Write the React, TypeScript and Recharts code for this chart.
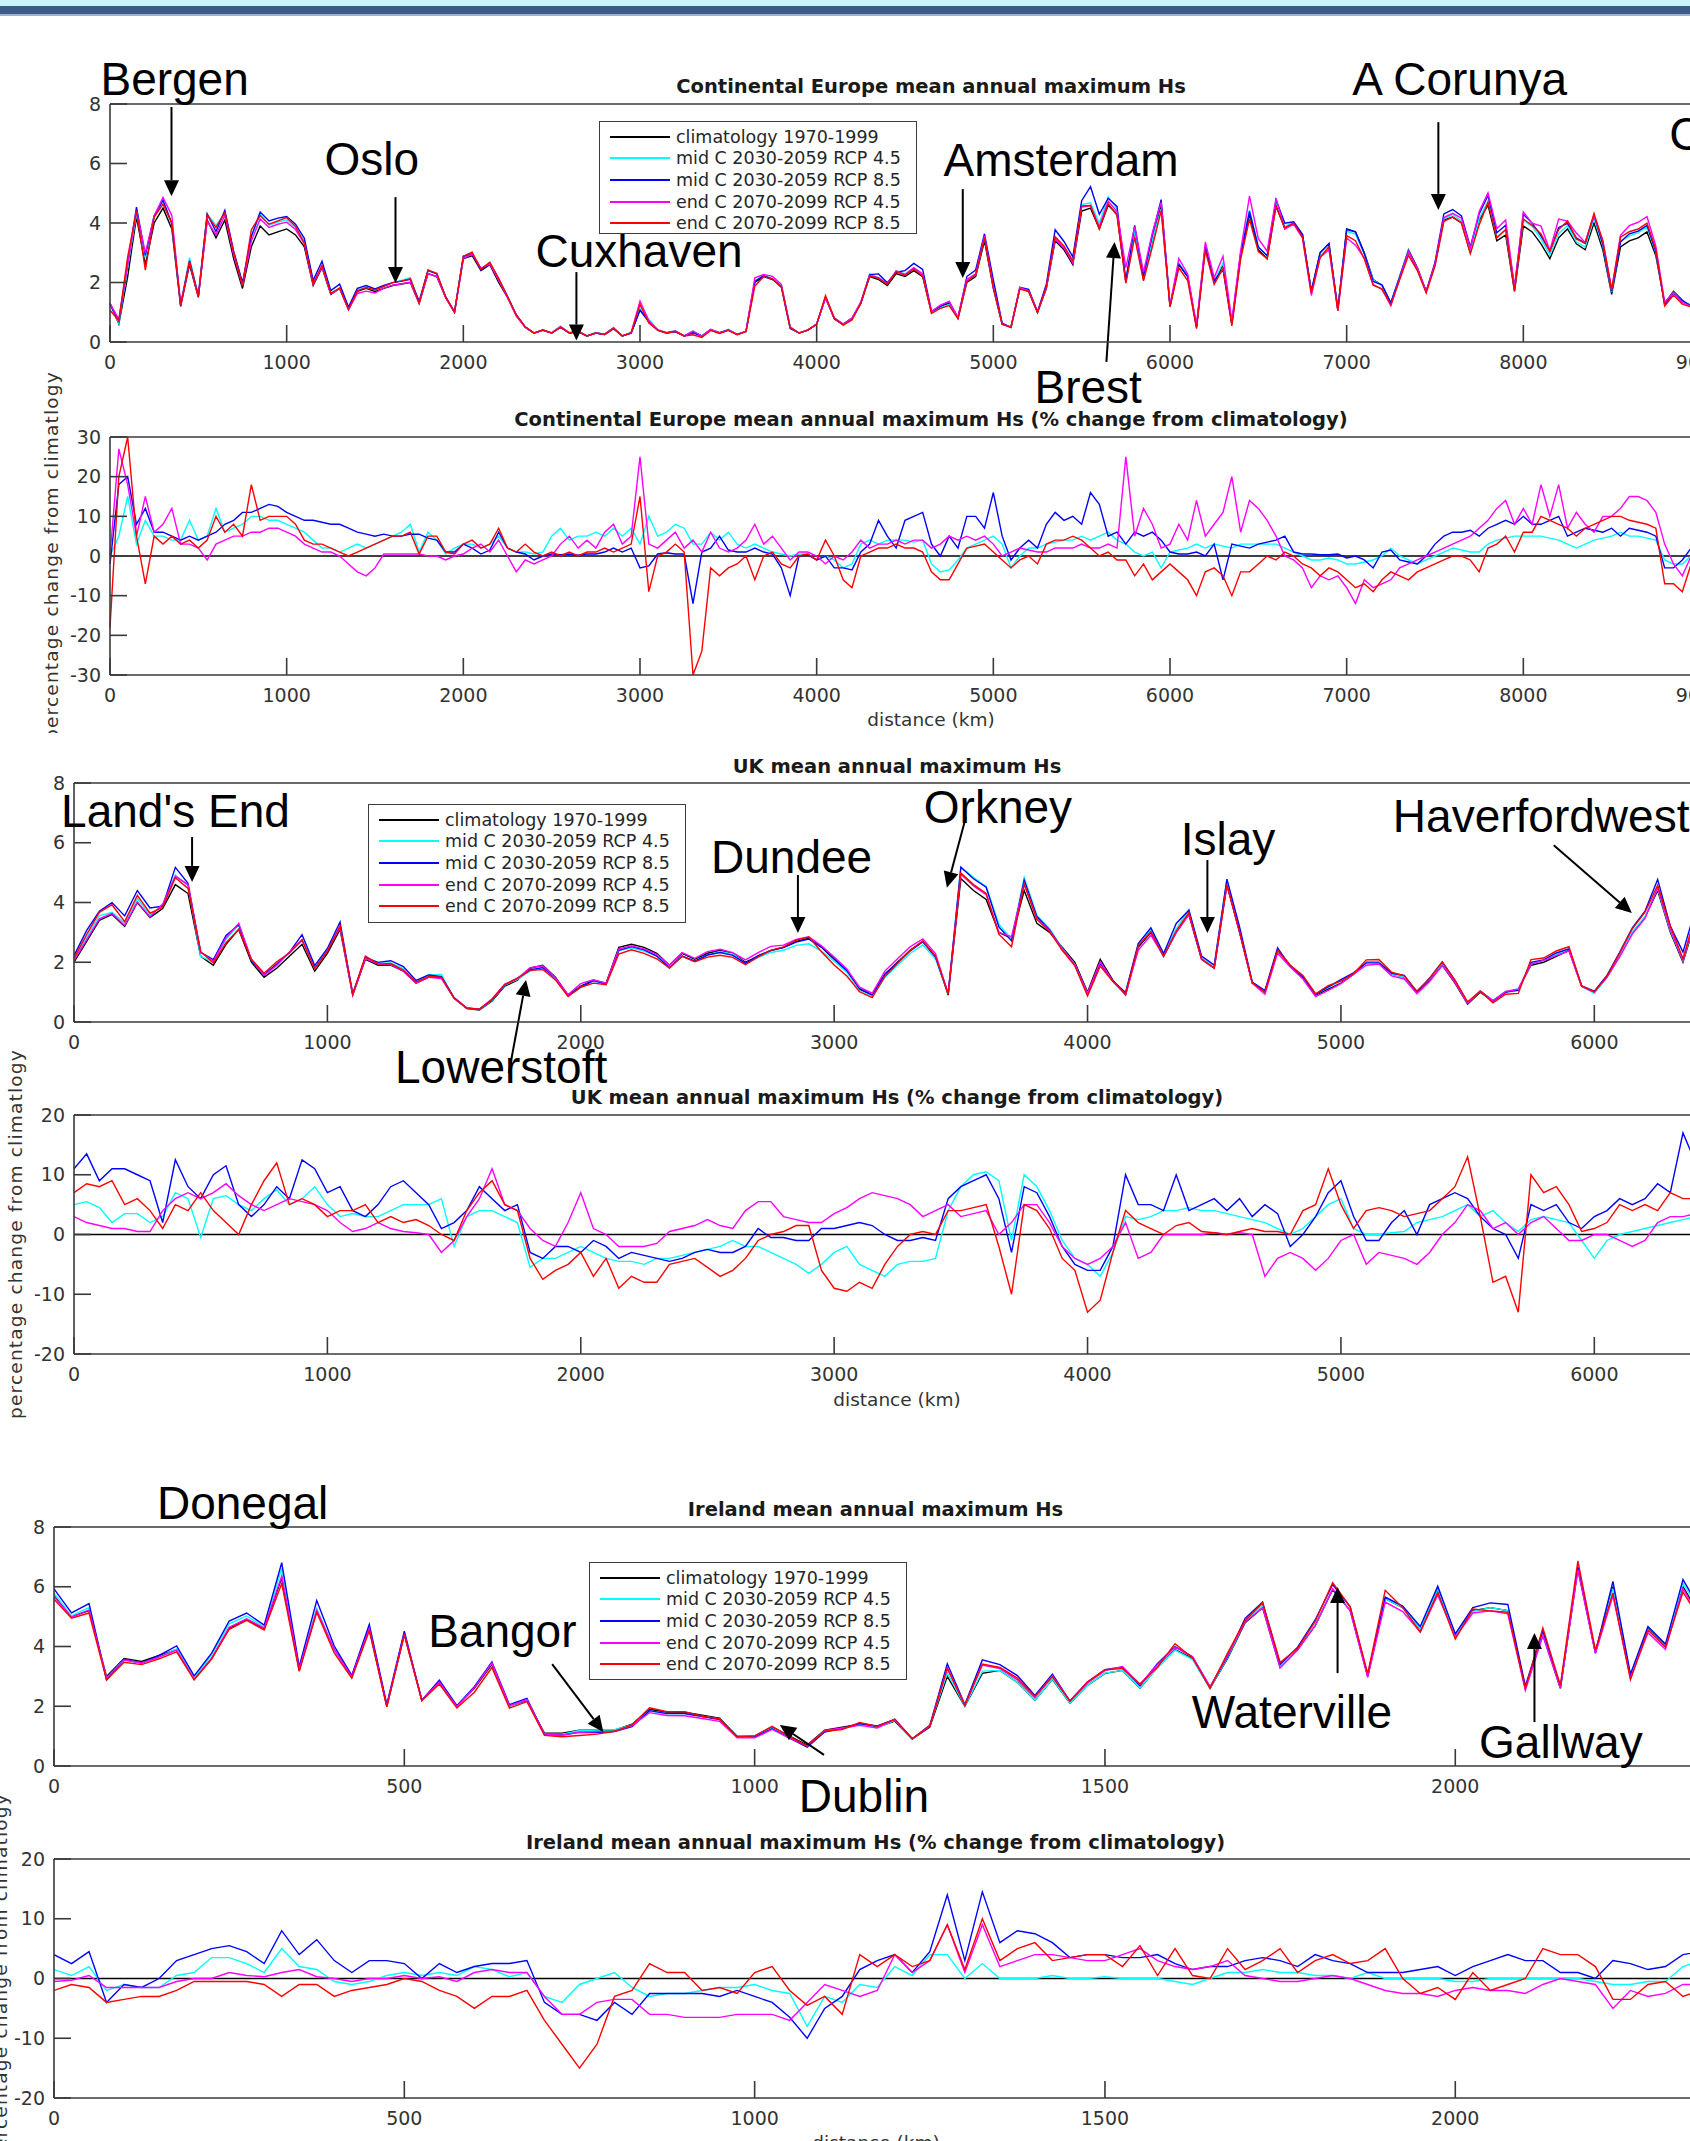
import React from "react";
import { LineChart, Line, XAxis, YAxis, Legend, ReferenceLine, ReferenceDot } from "recharts";

// ---------- Continental Europe (one value every 50 km) ----------
const CE_STEP_KM = 50;
const CE_CLIM = [
  1.3, 0.6, 2.2, 4.2, 2.6, 4.0, 4.5, 3.8, 1.2, 2.6,
  1.5, 4.1, 3.5, 4.1, 2.8, 1.8, 3.2, 3.9, 3.6, 3.7,
  3.8, 3.6, 3.2, 1.9, 2.5, 1.6, 1.8, 1.1, 1.7, 1.8,
  1.7, 1.8, 1.9, 1.95, 2.0, 1.3, 2.3, 2.2, 1.5, 1.0,
  2.8, 2.9, 2.4, 2.6, 2.0, 1.5, 0.9, 0.5, 0.3, 0.4,
  0.3, 0.5, 0.3, 0.35, 0.2, 0.3, 0.25, 0.45, 0.2, 0.3,
  1.1, 0.7, 0.4, 0.3, 0.35, 0.2, 0.35, 0.2, 0.4, 0.3,
  0.4, 0.25, 0.35, 2.0, 2.2, 2.1, 1.9, 0.5, 0.3, 0.4,
  0.6, 1.5, 0.8, 0.6, 0.8, 1.3, 2.2, 2.1, 1.9, 2.3,
  2.2, 2.4, 2.2, 1.0, 1.2, 1.3, 0.8, 2.0, 2.2, 3.4,
  1.8, 0.6, 0.5, 1.8, 1.7, 1.0, 1.8, 3.4, 3.1, 2.6,
  4.4, 4.5, 3.8, 4.6, 4.3, 2.0, 3.7, 2.1, 3.4, 4.6,
  1.2, 2.6, 2.2, 0.5, 3.2, 2.0, 2.6, 0.6, 2.9, 4.3,
  3.1, 2.8, 4.6, 3.8, 4.0, 3.6, 1.7, 3.0, 3.3, 1.1,
  3.8, 3.7, 3.0, 2.1, 1.9, 1.3, 2.2, 3.1, 2.5, 1.7,
  2.6, 4.1, 4.2, 4.0, 3.0, 4.1, 4.6, 3.4, 3.6, 1.7,
  3.9, 3.7, 3.3, 2.8, 3.5, 3.8, 3.3, 3.1, 4.0, 3.1,
  1.6, 3.2, 3.4, 3.5, 3.7, 2.9, 1.3, 1.7, 1.4, 1.2,
  1.3, 1.2, 1.4, 1.1, 1.3, 1.2, 1.3,
];
// % change from climatology
const CE_MID45 = [
  0, 5, 15, 3, 9, 5, 5, 4, 4, 9,
  4, 5, 12, 6, 7, 8, 10, 10, 9, 9,
  8, 7, 6, 4, 2, 2, 1, 2, 3, 2,
  3, 4, 5, 6, 8, 1, 6, 4, 0.5, 2,
  3, 3, 2, 3, 5, 2, 1, 1, 0.5, 1,
  5, 7, 4, 5, 5, 6, 5, 7, 5, 7,
  3, 10, 5, 6, 8, 7, 3, 3, 6, 4,
  6, 3, 2, 3, 2, 1, 0.5, 0, 0.5, 0.5,
  -1, 0, -1, -3, -2, 3, 4, 3, 4, 4,
  4, 3.5, 4, -2, -4, -3.5, -1, 2, 3, 4,
  5, 3, -3, 0, 2, 2, 3, 3.5, 4, 4,
  5, 4, 5, 6, 4, 3, 1, 0, 1, -3,
  1, 1.5, 2, 3, 2, 3, 2.5, 2, 3, 3,
  3, 3, 3, 2, 1, 0, -1, -1, -0.5, -1,
  -2, -2, -1.5, -1, 0, 2, 0, -1, -2, -1,
  0, 1, 2, 1.5, 1, 1, 3, 4, 4.5, 5,
  5, 5, 5, 4.5, 4, 3, 2, 3, 4, 4.5,
  5, 6, 5, 5, 4.5, 4, -1, -2, -2, 0,
  1, 0.5, 1, 0, 1, 0.5, 0,
];
const CE_MID85 = [
  -2, 18, 20, 8, 12, 6, 6, 5, 4, 5,
  4, 5, 6, 8, 9, 11, 11, 12, 13, 12.5,
  11, 10, 9, 9, 8.5, 8, 8, 7, 6, 5.5,
  5, 5.5, 5, 5, 5.5, 5.5, 4.5, 4, 1, 1,
  3, 2, 0.5, 1.5, 6, 2, 1, 0.5, -1, 0,
  0.5, 0.3, 0.5, 0.2, 0.5, 0.5, 1, 2, 1, 2,
  -3, -2.5, 0.5, 0.8, 0.5, 0.5, -12, 1, 2, 5,
  1.5, 1, 1, 2, 1, 0.5, -3, -10, 0, 0.3,
  -1, 0, -3, -3, -3.5, 1, 3, 9, 5, 2,
  9, 10, 11, 3, 0, 5, 2, 10, 10, 7,
  16, 5, -1, 2, 4, 2, 8, 11, 9, 10,
  8, 16, 13, 5, 6, 3, 6, 5, 6, 4,
  1, 0.5, 0.5, 1, 0, 3, -6, 3, 2.5, 2,
  3, 3.5, 4, 5, 1, 0.5, 0.5, 0.3, 0.3, 0.5,
  -0.5, 0, -1, -3, 1, 1.5, -1, -1.5, -2, 0,
  3, 5, 6, 6, 6.5, 5, 7, 8, 9, 8,
  10, 8, 8, 9, 10, 5, 6, 7, 6.5, 6,
  7, 5, 7, 6.5, 6, 5, -3, -3, -1, 2,
  1, 0, 1, 2, 1, 0, 1,
];
const CE_END45 = [
  0, 27, 18, 5, 15, 6, 8, 12, 3, 3,
  2, -1, 3, 4, 5, 5, 6, 6, 7, 7,
  6, 5, 3, 2, 1, 1, 0, -2, -4, -5,
  -3, 0.5, 0.5, 0.5, 0.5, 0.5, 0, 0, -1, 0,
  0.5, 2, 3, 1, 4, 0, -4, -1, -2, -1,
  0, 3, 5, 2, 4, 2, 6, 8, 3, 5,
  25, 3, 2, 4, 6, 2, 4, 1, 6, 2,
  1, 2, 4, 8, 3, 5, 2, -1, 1, 1,
  0, -2, 0, -1, 1, 4, 2, 3, 3, 4,
  3, 4, 4, 2, 3, 5, 4, 5, 4, 5,
  3, 0, 1, 2, 1.5, 1, 1, 2, 2, 2,
  3, 2, 2, 3, 2, 25, 5, 12, 8, 2,
  3, 8, 4, 14, 5, 8, 11, 20, 6, 14,
  12, 9, 5, 0, -1, -3, -8, -5, -6, -5,
  -8, -12, -6, -8, -7, -6, -3, -2, -1, 0,
  1, 2, 3, 4, 5, 7, 9, 12, 14, 8,
  12, 8, 18, 10, 18, 7, 11, 8, 6, 10,
  10, 12, 15, 15, 14, 11, 3, -2, -5, 0,
  -3, -2, 0, -1, -2, -1, 0,
];
const CE_END85 = [
  -18, 20, 30, 5, -7, 5, 3, 5, 3, 4,
  2, 4, 10, 6, 8, 5, 18, 9, 10, 10,
  10, 8, 4, 3, 3, 2, 1, 0, 1, 2,
  3, 4, 5, 5, 6, 0.5, 5, 5, 1, 0.5,
  3, 4, 2, 3, 7, 2, 1, 3, 1, 0,
  1, 0, 1, 0, 1, 1, 2, 1, 2, 3,
  15, -9, 0, 1, 3, 1, -30, -24, -3, -5,
  -3, -2, 0, -6, 0, 1, -2, -3, 0, 0.5,
  -1, 4, 0, -6, -8, 0, 1, 2, 2, 3,
  2, 2, 1, -4, -6, -6, -2, 2, 2.5, 3,
  1, -1, -3, -1, 0, -2, 3, 4, 4, 5,
  4, 2, 0, 1, -1, -1, -5, -2, -6, -4,
  -2, -4, -6, -10, -4, -3, -5, -10, -4, -4,
  -2, 0, -1, 1, 0, -2, -3, -5, -3, -4,
  -6, -8, -7, -9, -6, -4, -5, -6, -4, -3,
  -2, -1, 0, 0, -1, -4, 2, 3, 5, 1,
  6, 6, 10, 9, 8, 7, 5, 7, 8, 9,
  10, 10, 9, 8.5, 8, 7, -7, -7, -9, -2,
  -4, -3, -2, -3, -2, -1, -2,
];

// ---------- UK (one value every 50 km) ----------
const UK_STEP_KM = 50;
const UK_CLIM = [
  2.0, 2.7, 3.4, 3.6, 3.2, 4.0, 3.5, 3.8, 4.6, 4.3,
  2.2, 1.9, 2.6, 3.1, 2.0, 1.5, 1.8, 2.2, 2.6, 1.7,
  2.3, 3.1, 0.9, 2.1, 1.9, 1.9, 1.7, 1.3, 1.5, 1.5,
  0.8, 0.45, 0.4, 0.7, 1.2, 1.4, 1.8, 1.9, 1.5, 0.9,
  1.2, 1.4, 1.3, 2.5, 2.6, 2.5, 2.3, 1.9, 2.3, 2.1,
  2.3, 2.4, 2.3, 2.0, 2.2, 2.4, 2.5, 2.7, 2.8, 2.5,
  2.1, 1.7, 1.1, 0.9, 1.6, 2.0, 2.4, 2.7, 2.2, 0.9,
  4.8, 4.4, 4.1, 3.0, 2.8, 4.4, 3.3, 3.0, 2.5, 2.0,
  1.0, 2.1, 1.4, 0.9, 2.5, 3.0, 2.2, 3.0, 3.6, 2.1,
  1.8, 4.6, 3.0, 1.3, 1.0, 2.4, 1.9, 1.5, 0.9, 1.1,
  1.3, 1.6, 2.0, 2.0, 1.6, 1.5, 1.0, 1.4, 1.9, 1.3,
  0.6, 1.0, 0.7, 1.0, 1.1, 1.9, 2.0, 2.2, 2.4, 1.2,
  1.0, 1.5, 2.2, 3.0, 3.5, 4.4, 3.0, 2.0, 3.4, 3.0,
  2.8,
];
const UK_MID45 = [
  5, 5.5, 4.5, 2, 3.5, 3.5, 2, 3, 7, 6,
  -0.5, 6, 6.5, 5, 4, 6, 7.5, 5, 6, 8,
  5, 3, 3.5, 3, 3, 4, 5, 5, 5, 6,
  -2, 3, 4, 4, 3, 2, -5.5, -4, -4, -3,
  -2, -3, -4, -4.5, -4.5, -5, -4, -4, -3.5, -3,
  -2.5, -2, -1, -2, -2, -3, -4, -5, -6.5, -5,
  -3, -2, -5, -6, -7, -5, -4.5, -4.5, -4, 4,
  8, 10, 10.5, 9, -1, 10, 8, 4, -1, -4,
  -5, -7, -3, 3, 2.5, 3, 4, 4, 4.5, 4,
  4, 3.5, 3, 2.5, 2, 1, 0, 1, 3, 5,
  6, 1, 0, 0, 0.3, 0.5, 2, 2.5, 3, 4,
  5, 3, 4, 2, 0.5, 2.5, 3, 2.5, 2, -1,
  -4, -1, 0, 0.5, 1, 1.5, 2, 2.5, 3, 3,
  3,
];
const UK_MID85 = [
  11, 13.5, 9, 11, 11, 10, 9, 2, 12.5, 8,
  6, 10, 11.5, 5, 3, 5, 8, 6, 12.5, 11,
  7, 8, 4, 3, 5, 8, 9, 7, 5, 1,
  2, 4, 8, 6, 4, 5, -3, -4, -2, -2,
  -3, -1, -2, -4, -3, -3.5, -4, -4.5, -4, -3,
  -2.5, -3, -3, -2, 1, -0.5, -0.5, -1, -1, 1,
  1, 1.5, 2, 1.5, 0, -1, -1, -0.5, -1, 6,
  8, 9, 10, 6, -3, 8, 7, 3, -2, -5,
  -6, -6, -2, 10, 5, 5, 4, 10, 4, 5,
  6, 4, 6, 3, 5, 3.5, -2, 0, 3, 7,
  9, 3, -1, -1, 2, 4, 0, 5, 6, 7,
  6, 3, 1, 0, -4, 5, 4, 5, 2, 1,
  3, 4, 6, 5, 6, 8.5, 7, 17, 12, 10,
  9,
];
const UK_END45 = [
  3, 2, 1.5, 1, 1, 0.5, 0.5, 4, 6, 7,
  6, 7, 8.5, 6.5, 5, 4, 5, 6, 5.5, 5,
  4, 2, 0.5, 1, 2, 1, 0.5, 0.3, 0, -3,
  -1, 3, 6, 11, 5, 4, 1, -1, -2, 2,
  7, 1, 0, -2, -2, -2, -1.5, 0.5, 1, 1.5,
  2.5, 1.5, 1, 4, 5.5, 5.5, 3, 2.5, 2, 2,
  3.5, 4.5, 6, 7, 6.5, 6, 5, 3, 4, 5,
  3, 3.5, 4, 0, 2, 5, 5, 2, -2, -4,
  -5, -4, -2, 2, -4, -3, 0, 0, 0, 0,
  0.3, 0, 0.3, 0, -7, -4, -3, -4, -6, -4,
  -1, 0, -5, -3, -3.5, -4, -5, -3, 0, 2,
  5, 4, 1, 2, 0, 2, 3, 1, -1, -1,
  0, 0, -1, -2, -1, 2, 3, 3, 3.5, 3,
  3,
];
const UK_END85 = [
  7, 8.5, 8, 9, 5, 6, 4, 1, 5, 4,
  7, 4, 2, 0, 5, 9, 12, 5, 6, 5,
  3, 4, 4, 5, 2, 3, 2, 2.5, 1.5, 0,
  -1, 4, 7, 9, 5, 4, -4, -7.5, -6, -5,
  -3, -7, -4, -9, -7, -8, -8, -5, -4.5, -4,
  -5.5, -7, -6, -4, -1, 0, 0.5, 1.5, 1.5, -6,
  -9, -9.5, -8, -9, -5, -2, 0, 0.5, 0, 4,
  4, 4.5, 5, -2, -10, 5, 4, 1, -4, -6,
  -13, -11, -3, 4, 2, 1, 0, 1.5, 2, 0.5,
  0.3, 0, 0.5, 1, 0.5, 0.5, 0, 4, 5, 11,
  5, 1, 4, 4.5, 4, 3, 3.5, 4, 6, 8,
  13, 3, -8, -7, -13, 10, 7, 8, 5, 0.5,
  1, 2, 5, 4, 5, 4, 7, 6, 6, 5,
  5,
];

// ---------- Ireland (one value every 25 km) ----------
const IE_STEP_KM = 25;
const IE_CLIM = [
  5.7, 5.0, 5.2, 3.0, 3.6, 3.5, 3.7, 3.9, 2.9, 3.6,
  4.6, 4.9, 4.6, 6.3, 3.2, 5.2, 3.9, 3.0, 4.6, 2.0,
  4.4, 2.2, 2.8, 2.0, 2.6, 3.4, 2.0, 2.2, 1.1, 1.1,
  1.2, 1.2, 1.2, 1.4, 1.9, 1.8, 1.8, 1.7, 1.6, 1.0,
  1.0, 1.3, 1.0, 0.7, 1.2, 1.3, 1.4, 1.3, 1.5, 0.9,
  1.3, 3.0, 2.0, 3.1, 3.2, 2.8, 2.2, 2.9, 2.1, 2.7,
  3.1, 3.2, 2.6, 3.3, 3.9, 3.6, 2.6, 3.6, 4.8, 5.3,
  3.3, 3.9, 4.7, 5.9, 5.2, 3.0, 5.6, 5.3, 4.6, 5.9,
  4.4, 5.2, 5.3, 5.2, 2.6, 4.4, 2.6, 6.6, 3.8, 6.0,
  3.0, 4.6, 4.0, 6.0, 5.0,
];
const IE_MID45 = [
  1.5, 0.5, 2, -2, -1, -1.5, -1.5, 0.5, 1, 3.5,
  3.5, 2.5, 1, 5, 2, 1.5, -0.5, -1, -0.5, 0.5,
  1, 0.5, 1, 0.5, 2, 1.5, 0.3, 1, -3, -4,
  -1, 0, 1, -1.5, -3, -2.5, -2.5, -2, -1.5, -1.5,
  -1, -2, -2.5, -8, -3, -4, -1, -1.5, 2, 0.5,
  4, 4, 0, 2.5, 0, 0, 0, 0.5, 0, 0,
  0.3, 0, 0, 0, -0.5, -1, 0, 1, 1, 1.5,
  1, 1, 0.5, 0.5, 0, 1, 0, 0, 0, 0,
  -0.5, -0.5, 0, 0, 0, 0, 0, 0, -0.5, -1,
  -1, -0.5, -0.5, 2, 3,
];
const IE_MID85 = [
  4, 2.5, 4.5, -4, -1, -1.5, 0, 3, 4, 5,
  5.5, 4.5, 2.5, 8, 4, 6.5, 3, 1, 3, 3,
  2.5, 0, 2.5, 1, 2, 2.5, 2.5, 3, -4, -6,
  -6, -7, -4, -6, -2.5, -2.5, -2.5, -2.5, -3, -2,
  -3, -4, -6.5, -10, -5, -3, 1.5, 3, 4, 1,
  4.5, 14, 3, 14.5, 6, 8, 7.5, 6, 3.5, 4,
  4, 3.5, 3.5, 4, 2.5, 1.5, 2, 2, 3, 3.5,
  3, 2, 4, 3, 2.5, 1, 1, 1, 1.5, 2,
  0.5, 2, 3, 4, 3, 3, 1, 1, 0, 3,
  2.5, 1.5, 2, 4, 4.5,
];
const IE_END45 = [
  -0.5, -0.3, 0.5, -1.5, -1.5, -1.5, -1.5, -0.5, 0, 0,
  1, 0.5, 0.3, 1, 1.5, 0.3, 0, -0.5, 0, 0,
  0.5, 0, 0.3, -0.5, 1, 1.5, 1, 1, -3, -6,
  -6, -4, -3.5, -3.5, -6, -6, -6.5, -6.5, -6.5, -6,
  -6, -6, -7, -4, -1, -2, -3, -2, 4, 1,
  3, 9, 1, 9, 2, 3, 4, 4, 3.5, 3,
  3, 4, 5, 3, 2, 1.5, 2, 3, 0.5, 0,
  -0.5, -0.5, 0, 0.5, 0, -1, -2, -2.5, -2.5, -3,
  -2, -1.5, -2, -2, -2.5, -1, 0, -0.5, -1, -5,
  -2, -3, -2.5, -1, -1,
];
const IE_END85 = [
  -2, -1, -1.5, -4, -3.5, -3, -3, -2, -0.5, -0.5,
  -0.5, -0.5, -1, -3, -1, -1, -3, -2, -1.5, -1,
  0, -0.5, -2, -3, -5, -3, -3, -2, -7, -11,
  -15, -11, -3, -2, 2.5, 1, 1, -2, -1.5, -2.5,
  1, 2, -2, -4.5, -3, -6, 4, 2, 4, 2,
  3, 9, 1.5, 10, 3, 5, 6, 3, 3.5, 4,
  4, 2, 5.5, 0.5, 5, 0.5, 0, 5, 1.5, 3,
  5, 1, 3, 4, 2.5, 3, 5, 0, -2.5, -1.5,
  -3.5, 1, -2, -1, 0, 5, 4, 4, 2, -3.5,
  -3.5, -1, -0.5, -3, -2,
];

// ---------- ticks ----------
const CE_X_TICKS = [0, 1000, 2000, 3000, 4000, 5000, 6000, 7000, 8000, 9000];
const UK_X_TICKS = [0, 1000, 2000, 3000, 4000, 5000, 6000];
const IE_X_TICKS = [0, 500, 1000, 1500, 2000];
const HS_TICKS = [0, 2, 4, 6, 8];
const CE_PCT_TICKS = [-30, -20, -10, 0, 10, 20, 30];
const PCT_TICKS = [-20, -10, 0, 10, 20];

// place-name annotations: text at [km, value], arrow from tail to tip
const CE_NOTES = [
  { text: "Bergen", at: [-54, 8.3], tail: [348, 7.9], tip: [348, 4.9] },
  { text: "Oslo", at: [1214, 5.61], tail: [1616, 4.87], tip: [1616, 1.98] },
  { text: "Cuxhaven", at: [2408, 2.52], tail: [2640, 2.35], tip: [2640, 0.05] },
  { text: "Amsterdam", at: [4718, 5.58], tail: [4827, 5.14], tip: [4827, 2.15] },
  { text: "Brest", at: [5233, -2.05], tail: [5640, -0.67], tip: [5686, 3.36] },
  { text: "A Corunya", at: [7032, 8.3], tail: [7519, 7.39], tip: [7519, 4.44] },
  { text: "C", at: [8826, 6.45] },
];
const UK_NOTES = [
  { text: "Land's End", at: [-51, 6.53], tail: [466, 6.19], tip: [466, 4.69] },
  { text: "Dundee", at: [2514, 4.99], tail: [2857, 4.92], tip: [2857, 2.98] },
  { text: "Lowerstoft", at: [1267, -2.04], tail: [1716, -1.71], tip: [1784, 1.41] },
  { text: "Orkney", at: [3354, 6.66], tail: [3520, 6.86], tip: [3445, 4.49] },
  { text: "Islay", at: [4368, 5.59], tail: [4473, 5.42], tip: [4473, 2.98] },
  { text: "Haverfordwest", at: [5205, 6.36], tail: [5840, 5.92], tip: [6148, 3.65] },
];
const IE_NOTES = [
  { text: "Donegal", at: [147, 8.27] },
  { text: "Bangor", at: [534, 3.98], tail: [711, 3.41], tip: [784, 1.14] },
  { text: "Dublin", at: [1063, -1.54], tail: [1099, 0.37], tip: [1036, 1.37] },
  { text: "Waterville", at: [1624, 1.27], tail: [1832, 3.11], tip: [1832, 5.99] },
  { text: "Gallway", at: [2034, 0.27], tail: [2113, 1.47], tip: [2113, 4.45] },
];

const SERIES = [
  { key: "clim", name: "climatology 1970-1999", color: "#000000" },
  { key: "mid45", name: "mid C 2030-2059 RCP 4.5", color: "#00ffff" },
  { key: "mid85", name: "mid C 2030-2059 RCP 8.5", color: "#0000ff" },
  { key: "end45", name: "end C 2070-2099 RCP 4.5", color: "#ff00ff" },
  { key: "end85", name: "end C 2070-2099 RCP 8.5", color: "#ff0000" },
];
const seriesOrder = (name: string) => SERIES.findIndex((s) => s.name === name);

type Pct = { mid45: number[]; mid85: number[]; end45: number[]; end85: number[] };

// future Hs = climatology scaled by its % change
const scaled = (base: number, pct: number) => +(base * (1 + pct / 100)).toFixed(3);

function hsRows(step: number, clim: number[], p: Pct) {
  return clim.map((c, i) => ({
    km: i * step,
    clim: c,
    mid45: scaled(c, p.mid45[i]),
    mid85: scaled(c, p.mid85[i]),
    end45: scaled(c, p.end45[i]),
    end85: scaled(c, p.end85[i]),
  }));
}

function pctRows(step: number, p: Pct) {
  return p.mid45.map((_, i) => ({
    km: i * step,
    mid45: p.mid45[i],
    mid85: p.mid85[i],
    end45: p.end45[i],
    end85: p.end85[i],
  }));
}

const CE_PCT = { mid45: CE_MID45, mid85: CE_MID85, end45: CE_END45, end85: CE_END85 };
const UK_PCT = { mid45: UK_MID45, mid85: UK_MID85, end45: UK_END45, end85: UK_END85 };
const IE_PCT = { mid45: IE_MID45, mid85: IE_MID85, end45: IE_END45, end85: IE_END85 };

const FONT = "'DejaVu Sans', Verdana, sans-serif";
const NOTE_FONT = "'Liberation Sans', Arial, sans-serif";
const AXIS = "#3a3a3a";
const TICK = 17;
const X_H = 40;
const Y_W = 50;

function Arrow(props: any) {
  const { x1, y1, x2, y2 } = props;
  if (![x1, y1, x2, y2].every((v) => typeof v === "number" && isFinite(v))) return null;
  const dx = x2 - x1;
  const dy = y2 - y1;
  const len = Math.hypot(dx, dy) || 1;
  const ux = dx / len;
  const uy = dy / len;
  const bx = x2 - ux * 16;
  const by = y2 - uy * 16;
  const hw = 7.5;
  return (
    <g>
      <line x1={x1} y1={y1} x2={bx} y2={by} stroke="#000" strokeWidth={2} />
      <path d={`M${x2},${y2} L${bx - uy * hw},${by + ux * hw} L${bx + uy * hw},${by - ux * hw} Z`} fill="#000" />
    </g>
  );
}

function LegendBox({ payload, height }: any) {
  const items = [...(payload || [])].sort((a: any, b: any) => seriesOrder(a.value) - seriesOrder(b.value));
  return (
    <div
      style={{
        width: 318,
        height,
        boxSizing: "border-box",
        border: "1.5px solid #3c3c3c",
        background: "#fff",
        paddingTop: 4,
      }}
    >
      {items.map((item: any) => (
        <div key={item.value} style={{ height: 21.6, display: "flex", alignItems: "center" }}>
          <svg width={76} height={10} style={{ flex: "none" }}>
            <line x1={10} x2={70} y1={5} y2={5} stroke={item.color} strokeWidth={2} />
          </svg>
          <span style={{ fontFamily: FONT, fontSize: 17.5, color: "#262626", whiteSpace: "nowrap" }}>{item.value}</span>
        </div>
      ))}
    </div>
  );
}

function Panel({ rows, keys, xMax, xTicks, yDomain, yTicks, plot, pad, legend, zero, notes, clip }: any) {
  const w = plot.width + pad.left + pad.right;
  const h = plot.height + pad.top + pad.bottom;
  const left = plot.left - pad.left;
  const top = plot.top - pad.top;
  const line = { stroke: AXIS, strokeWidth: 1.6 };
  const tickText = { fill: "#333", fontSize: 19, fontFamily: FONT };
  return (
    <div style={{ position: "absolute", left, top, width: w, height: h }}>
      <LineChart
        width={w}
        height={h}
        data={rows}
        margin={{ top: pad.top, right: pad.right, bottom: pad.bottom - X_H, left: pad.left - Y_W }}
      >
        <XAxis dataKey="km" type="number" domain={[0, xMax]} ticks={xTicks} interval={0} allowDataOverflow={!!clip}
          height={X_H} tickSize={-TICK} tickMargin={TICK + 14} axisLine={line} tickLine={line} tick={tickText} />
        <XAxis xAxisId="top" orientation="top" mirror dataKey="km" type="number" domain={[0, xMax]} ticks={xTicks}
          interval={0} tickSize={TICK} tick={false} axisLine={line} tickLine={line} />
        <YAxis type="number" domain={yDomain} ticks={yTicks} interval={0} width={Y_W} tickSize={-TICK}
          tickMargin={TICK + 9} axisLine={line} tickLine={line} tick={tickText} />
        <YAxis yAxisId="right" orientation="right" mirror type="number" domain={yDomain} ticks={yTicks} interval={0}
          tickSize={TICK} tick={false} axisLine={line} tickLine={line} />
        {zero && <ReferenceLine y={0} stroke="#000" strokeWidth={1.6} />}
        {SERIES.filter((s) => keys.includes(s.key)).map((s) => (
          <Line key={s.key} dataKey={s.key} name={s.name} type="linear" stroke={s.color} strokeWidth={1.4}
            dot={false} activeDot={false} isAnimationActive={false} />
        ))}
        {legend && (
          <Legend layout="horizontal" verticalAlign="middle" align="center"
            itemSorter={(item: any) => seriesOrder(item.value)}
            wrapperStyle={{ left: legend.left - left, top: legend.top - top, width: 318, height: legend.height }}
            content={(lp: any) => <LegendBox payload={lp.payload} height={legend.height} />} />
        )}
        {(notes || []).filter((n: any) => n.tip).map((n: any) => (
          <ReferenceLine key={"a" + n.text} ifOverflow="visible"
            segment={[{ x: n.tail[0], y: n.tail[1] }, { x: n.tip[0], y: n.tip[1] }]} shape={Arrow} />
        ))}
        {(notes || []).map((n: any) => (
          <ReferenceDot key={"t" + n.text} x={n.at[0]} y={n.at[1]} r={0} ifOverflow="visible"
            shape={(s: any) => (
              <text x={s.cx} y={s.cy} fontFamily={NOTE_FONT} fontSize={46} fill="#000">{n.text}</text>
            )} />
        ))}
      </LineChart>
    </div>
  );
}

function PageText({ x, y, children, bold, rotate }: any) {
  return (
    <div
      style={{
        position: "absolute",
        left: x,
        top: y,
        transform: `translate(-50%, -50%)${rotate ? " rotate(-90deg)" : ""}`,
        whiteSpace: "nowrap",
        fontFamily: FONT,
        fontSize: bold ? 19.5 : 18.5,
        fontWeight: bold ? 700 : 400,
        letterSpacing: rotate ? 1.2 : 0,
        color: bold ? "#1a1a1a" : "#333",
        lineHeight: 1,
      }}
    >
      {children}
    </div>
  );
}

const YLABEL = "percentage change from climatlogy";

export default function App() {
  const ceHs = hsRows(CE_STEP_KM, CE_CLIM, CE_PCT);
  const cePct = pctRows(CE_STEP_KM, CE_PCT);
  const ukHs = hsRows(UK_STEP_KM, UK_CLIM, UK_PCT);
  const ukPct = pctRows(UK_STEP_KM, UK_PCT);
  const ieHs = hsRows(IE_STEP_KM, IE_CLIM, IE_PCT);
  const iePct = pctRows(IE_STEP_KM, IE_PCT);
  const all = SERIES.map((s) => s.key);
  const changes = ["mid45", "mid85", "end45", "end85"];

  return (
    <div style={{ position: "absolute", left: 0, top: 0, width: 1690, height: 2141, overflow: "hidden", background: "#fff" }}>
      <div style={{ position: "absolute", left: 0, top: 0, width: 1690, height: 6, background: "#c9f6fa" }} />
      <div style={{ position: "absolute", left: 0, top: 6, width: 1690, height: 8, background: "#3c5b86" }} />
      <div style={{ position: "absolute", left: 0, top: 14, width: 1690, height: 2, background: "#9fb2cc" }} />

      {/* Continental Europe */}
      <PageText x={931} y={87} bold>Continental Europe mean annual maximum Hs</PageText>
      <Panel rows={ceHs} keys={all} xMax={9300} xTicks={CE_X_TICKS} yDomain={[0, 8]} yTicks={HS_TICKS}
        plot={{ left: 109.5, top: 104, width: 1643, height: 238 }} pad={{ top: 60, right: 12, bottom: 72, left: 100 }}
        legend={{ left: 599, top: 121, height: 113 }} notes={CE_NOTES} />
      <PageText x={931} y={420} bold>Continental Europe mean annual maximum Hs (% change from climatology)</PageText>
      <Panel rows={cePct} keys={changes} xMax={9300} xTicks={CE_X_TICKS} yDomain={[-30, 30]} yTicks={CE_PCT_TICKS}
        plot={{ left: 109.5, top: 437, width: 1643, height: 238 }} pad={{ top: 10, right: 12, bottom: 50, left: 100 }} zero />
      <PageText x={931} y={720}>distance (km)</PageText>
      <PageText x={52} y={556} rotate>{YLABEL}</PageText>

      {/* UK image sits on top of the previous one */}
      <div style={{ position: "absolute", left: 0, top: 733, width: 1690, height: 720, background: "#fff" }} />
      <PageText x={897} y={767} bold>UK mean annual maximum Hs</PageText>
      <Panel rows={ukHs} keys={all} xMax={6500} xTicks={UK_X_TICKS} yDomain={[0, 8]} yTicks={HS_TICKS}
        plot={{ left: 74, top: 783, width: 1647, height: 239 }} pad={{ top: 12, right: 12, bottom: 75, left: 70 }}
        legend={{ left: 368, top: 804, height: 119 }} notes={UK_NOTES} />
      <PageText x={897} y={1098} bold>UK mean annual maximum Hs (% change from climatology)</PageText>
      <Panel rows={ukPct} keys={changes} xMax={6500} xTicks={UK_X_TICKS} yDomain={[-20, 20]} yTicks={PCT_TICKS}
        plot={{ left: 74, top: 1115, width: 1647, height: 239 }} pad={{ top: 10, right: 12, bottom: 50, left: 70 }} zero />
      <PageText x={897} y={1400}>distance (km)</PageText>
      <PageText x={16} y={1234} rotate>{YLABEL}</PageText>

      {/* Ireland */}
      <PageText x={875.5} y={1510} bold>Ireland mean annual maximum Hs</PageText>
      <Panel rows={ieHs} keys={all} xMax={2345} xTicks={IE_X_TICKS} yDomain={[0, 8]} yTicks={HS_TICKS} clip
        plot={{ left: 54, top: 1527, width: 1643, height: 239 }} pad={{ top: 50, right: 12, bottom: 60, left: 54 }}
        legend={{ left: 589, top: 1562, height: 118 }} notes={IE_NOTES} />
      <PageText x={875.5} y={1843} bold>Ireland mean annual maximum Hs (% change from climatology)</PageText>
      <Panel rows={iePct} keys={changes} xMax={2345} xTicks={IE_X_TICKS} yDomain={[-20, 20]} yTicks={PCT_TICKS} clip
        plot={{ left: 54, top: 1859, width: 1643, height: 239 }} pad={{ top: 10, right: 12, bottom: 45, left: 54 }} zero />
      <PageText x={876} y={2143}>distance (km)</PageText>
      <PageText x={1} y={1978} rotate>{YLABEL}</PageText>
    </div>
  );
}
